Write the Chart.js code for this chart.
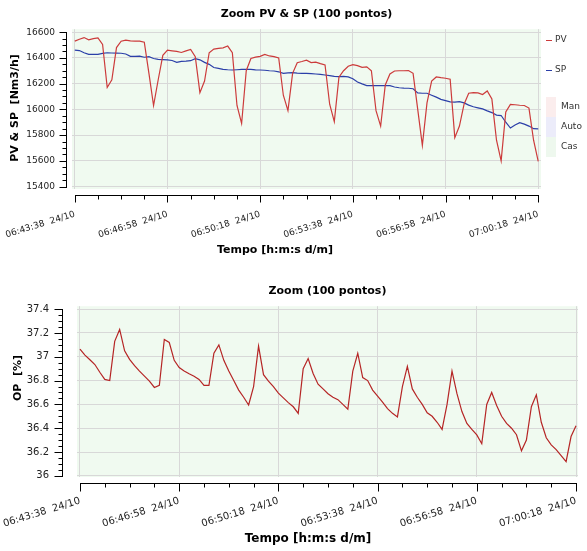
<!DOCTYPE html>
<html><head><meta charset="utf-8">
<script src="https://cdn.jsdelivr.net/npm/chart.js@4.4.0/dist/chart.umd.min.js"></script>
<style>
html,body{margin:0;padding:0;background:#fff;overflow:hidden;}
#w1{position:absolute;left:0;top:0;width:587px;height:265px;}
#w2{position:absolute;left:0;top:265px;width:587px;height:286px;}
</style></head><body>
<div id="w1"><canvas id="c1"></canvas></div>
<div id="w2"><canvas id="c2"></canvas></div>
<script>
// ---- data ----
const times = [
'06:43:38','06:43:48','06:43:58','06:44:08','06:44:18','06:44:28','06:44:38','06:44:48','06:44:58','06:45:08',
'06:45:18','06:45:28','06:45:38','06:45:48','06:45:58','06:46:08','06:46:18','06:46:28','06:46:38','06:46:48',
'06:46:58','06:47:08','06:47:18','06:47:28','06:47:38','06:47:48','06:47:58','06:48:08','06:48:18','06:48:28',
'06:48:38','06:48:48','06:48:58','06:49:08','06:49:18','06:49:28','06:49:38','06:49:48','06:49:58','06:50:08',
'06:50:18','06:50:28','06:50:38','06:50:48','06:50:58','06:51:08','06:51:18','06:51:28','06:51:38','06:51:48',
'06:51:58','06:52:08','06:52:18','06:52:28','06:52:38','06:52:48','06:52:58','06:53:08','06:53:18','06:53:28',
'06:53:38','06:53:48','06:53:58','06:54:08','06:54:18','06:54:28','06:54:38','06:54:48','06:54:58','06:55:08',
'06:55:18','06:55:28','06:55:38','06:55:48','06:55:58','06:56:08','06:56:18','06:56:28','06:56:38','06:56:48',
'06:56:58','06:57:08','06:57:18','06:57:28','06:57:38','06:57:48','06:57:58','06:58:08','06:58:18','06:58:28',
'06:58:38','06:58:48','06:58:58','06:59:08','06:59:18','06:59:28','06:59:38','06:59:48','06:59:58','07:00:08',
'07:00:18'];

const pv = [
16530,16545,16558,16540,16550,16555,16505,16170,16230,16480,
16530,16538,16532,16530,16530,16522,16280,16030,16230,16420,
16460,16455,16450,16442,16455,16465,16410,16130,16220,16440,
16468,16474,16478,16492,16440,16030,15890,16300,16395,16406,
16412,16427,16415,16410,16400,16110,15990,16280,16363,16372,
16382,16363,16367,16355,16345,16040,15905,16250,16300,16335,
16348,16340,16326,16330,16300,15990,15870,16190,16275,16298,
16300,16300,16302,16280,16000,15720,16050,16220,16252,16246,
16242,16234,15780,15870,16040,16125,16130,16128,16115,16143,
16080,15760,15600,15980,16038,16036,16032,16030,16010,15760,
15595];

const sp = [
16460,16457,16440,16427,16427,16427,16435,16440,16438,16437,
16436,16430,16412,16412,16414,16405,16410,16395,16388,16386,
16384,16380,16366,16373,16375,16378,16394,16385,16365,16350,
16325,16318,16311,16308,16306,16308,16310,16311,16310,16307,
16306,16304,16300,16298,16292,16280,16283,16285,16282,16280,
16279,16277,16275,16272,16267,16262,16256,16254,16256,16252,
16238,16213,16198,16185,16184,16184,16184,16184,16184,16174,
16168,16165,16164,16160,16128,16125,16125,16110,16095,16078,
16068,16058,16056,16060,16050,16033,16020,16012,16004,15988,
15975,15955,15952,15900,15855,15878,15897,15885,15870,15850,
15849];

const op = [
37.065,37.014,36.975,36.935,36.87,36.81,36.80,37.13,37.23,37.05,
36.978,36.925,36.88,36.837,36.795,36.742,36.76,37.145,37.12,36.97,
36.91,36.88,36.857,36.837,36.81,36.76,36.76,37.03,37.10,36.97,
36.88,36.80,36.72,36.66,36.595,36.75,37.09,36.85,36.795,36.749,
36.695,36.655,36.615,36.58,36.525,36.90,36.985,36.86,36.77,36.73,
36.69,36.66,36.64,36.60,36.56,36.88,37.03,36.825,36.80,36.72,
36.67,36.62,36.565,36.525,36.495,36.75,36.92,36.73,36.66,36.60,
36.53,36.50,36.45,36.39,36.60,36.88,36.69,36.54,36.44,36.39,
36.344,36.27,36.60,36.70,36.59,36.50,36.44,36.40,36.345,36.21,
36.30,36.58,36.68,36.45,36.32,36.26,36.22,36.17,36.12,36.33,
36.42];

const xTickLabels = ['06:43:38','06:46:58','06:50:18','06:53:38','06:56:58','07:00:18'];
const dateLabel = '24/10';
const yTicksTop = [15400,15600,15800,16000,16200,16400,16600];
const yTicksBottom = [36,36.2,36.4,36.6,36.8,37,37.2,37.4];
const yTickLabelsBottom = ['36','36.2','36.4','36.6','36.8','37','37.2','37.4'];
const legendLabels = ['PV','SP','Man','Auto','Cas'];
const titleTop = 'Zoom PV & SP (100 pontos)';
const titleBottom = 'Zoom (100 pontos)';
const xTitle = 'Tempo [h:m:s d/m]';
const yTitleTop = 'PV & SP  [Nm3/h]';
const yTitleBottom = 'OP  [%]';

// ---- helpers ----
const FONT = "'DejaVu Sans', Verdana, sans-serif";
Chart.defaults.font.family = FONT;
const toSec = s => { const p = s.split(':').map(Number); return p[0]*3600 + p[1]*60 + p[2]; };
const t0 = toSec(times[0]);
const xs = times.map(s => toSec(s) - t0);
const xTickVals = xTickLabels.map(s => toSec(s) - t0);
const pts = vals => vals.map((v, i) => ({x: xs[i], y: v}));
const xLabel = v => { const i = xTickVals.indexOf(v); return i < 0 ? '' : xTickLabels[i] + '  ' + dateLabel; };

const plotBg = {
  id: 'plotBg',
  beforeDraw(chart, args, o) {
    const {ctx, chartArea: a} = chart;
    ctx.save(); ctx.fillStyle = o.color;
    ctx.fillRect(a.left, a.top, a.right - a.left, a.bottom - a.top);
    ctx.restore();
  }
};

const axesDecor = {
  id: 'axesDecor',
  afterDraw(chart, args, o) {
    const {ctx, chartArea: a, scales: {x, y}} = chart;
    ctx.save();
    ctx.strokeStyle = '#000'; ctx.lineWidth = 1;
    const ax = Math.round(a.left - o.yGap) + 0.5;
    const ay = Math.round(a.bottom + o.xGap) + 0.5;
    const py = v => Math.round(y.getPixelForValue(v)) + 0.5;
    const px = v => Math.round(x.getPixelForValue(v)) + 0.5;
    const ym = o.yMajor, xm = o.xMajor;
    ctx.beginPath();
    ctx.moveTo(ax, py(ym[ym.length - 1]) - 0.5); ctx.lineTo(ax, py(ym[0]) + 0.5);
    for (let i = 0; i < ym.length; i++) {
      ctx.moveTo(ax - o.majorLen, py(ym[i])); ctx.lineTo(ax, py(ym[i]));
      if (i < ym.length - 1) for (let k = 1; k < 4; k++) {
        const v = ym[i] + (ym[i + 1] - ym[i]) * k / 4;
        ctx.moveTo(ax - o.minorLen, py(v)); ctx.lineTo(ax, py(v));
      }
    }
    ctx.moveTo(px(xm[0]) - 0.5, ay); ctx.lineTo(px(xm[xm.length - 1]) + 0.5, ay);
    for (let i = 0; i < xm.length; i++) {
      ctx.moveTo(px(xm[i]), ay); ctx.lineTo(px(xm[i]), ay + o.majorLen);
      if (i < xm.length - 1) for (let k = 1; k < 4; k++) {
        const v = xm[i] + (xm[i + 1] - xm[i]) * k / 4;
        ctx.moveTo(px(v), ay); ctx.lineTo(px(v), ay + o.minorLen);
      }
    }
    ctx.stroke();
    ctx.fillStyle = '#000'; ctx.textAlign = 'center'; ctx.textBaseline = 'middle';
    ctx.font = o.xTitle.font; ctx.fillText(o.xTitle.text, o.xTitle.x, o.xTitle.y);
    ctx.translate(o.yTitle.x, o.yTitle.y); ctx.rotate(-Math.PI / 2);
    ctx.font = o.yTitle.font; ctx.fillText(o.yTitle.text, 0, 0);
    ctx.restore();
  }
};

const sideLegend = {
  id: 'sideLegend',
  afterDraw(chart, args, o) {
    if (!o.items) return;
    const {ctx, chartArea: a} = chart;
    ctx.save();
    ctx.font = '9px ' + FONT; ctx.textBaseline = 'middle'; ctx.textAlign = 'left';
    const x0 = a.right + 5;
    o.items.forEach(it => {
      if (it.type === 'line') {
        ctx.strokeStyle = it.color; ctx.lineWidth = 1;
        ctx.beginPath(); ctx.moveTo(x0, it.y + 0.5); ctx.lineTo(x0 + 6, it.y + 0.5); ctx.stroke();
        ctx.fillStyle = '#333'; ctx.fillText(it.text, x0 + 9, it.y);
      } else {
        ctx.fillStyle = it.color; ctx.fillRect(x0, it.y - 10, 10, 20);
        ctx.fillStyle = '#333'; ctx.fillText(it.text, x0 + 15, it.y);
      }
    });
    ctx.restore();
  }
};

function makeChart(id, cfg) {
  return new Chart(document.getElementById(id), {
    type: 'line',
    data: {datasets: cfg.datasets},
    plugins: [plotBg, axesDecor, sideLegend],
    options: {
      responsive: true, maintainAspectRatio: false, animation: false,
      layout: {padding: {left: 0, right: cfg.padRight, top: 0, bottom: 0}},
      elements: {point: {radius: 0}, line: {tension: 0}},
      plugins: {
        legend: {display: false}, tooltip: {enabled: false},
        title: {display: true, text: cfg.title, color: '#000', fullSize: false,
                font: {size: 11, weight: 'bold'}, padding: cfg.titlePad},
        plotBg: {color: '#F0FAF0'},
        axesDecor: cfg.decor,
        sideLegend: {items: cfg.legend}
      },
      scales: {
        x: {
          type: 'linear', min: cfg.xMin, max: cfg.xMax,
          afterFit: s => { s.height = cfg.xH; s.paddingLeft = 0; s.paddingRight = 0; },
          afterBuildTicks: s => { s.ticks = xTickVals.map(v => ({value: v})); },
          grid: {color: '#D8D8D8', drawTicks: false},
          border: {display: false},
          ticks: {autoSkip: false, minRotation: 17, maxRotation: 17, padding: cfg.xPad,
                  color: '#222', font: {size: cfg.tickSize}, callback: v => xLabel(v)}
        },
        y: {
          type: 'linear', min: cfg.yMin, max: cfg.yMax,
          afterFit: s => { s.width = cfg.yW; s.paddingTop = 0; s.paddingBottom = 0; },
          afterBuildTicks: s => { s.ticks = cfg.yTicks.map(v => ({value: v})); },
          grid: {color: '#D8D8D8', drawTicks: false},
          border: {display: false},
          ticks: {padding: cfg.yPad, color: '#222', font: {size: cfg.tickSize},
                  callback: cfg.yLabel}
        }
      }
    }
  });
}

makeChart('c1', {
  datasets: [
    {label: 'PV', data: pts(pv), borderColor: '#CC3B3B', borderWidth: 1.2},
    {label: 'SP', data: pts(sp), borderColor: '#2B3FA8', borderWidth: 1.2}
  ],
  title: titleTop, titlePad: {top: 8, bottom: 8}, padRight: 46,
  xMin: -6, xMax: 1006, yMin: 15381, yMax: 16623, xH: 76, yW: 72,
  xPad: 20, yPad: 17, tickSize: 9, yTicks: yTicksTop, yLabel: v => String(v),
  decor: {yGap: 6, xGap: 6, majorLen: 7, minorLen: 4, yMajor: yTicksTop, xMajor: xTickVals,
          xTitle: {text: xTitle, x: 275, y: 250, font: 'bold 11px ' + FONT},
          yTitle: {text: yTitleTop, x: 15, y: 108, font: 'bold 11px ' + FONT}},
  legend: [
    {type: 'line', text: legendLabels[0], color: '#CC3B3B', y: 40},
    {type: 'line', text: legendLabels[1], color: '#2B3FA8', y: 70},
    {type: 'box', text: legendLabels[2], color: '#FBEDED', y: 107},
    {type: 'box', text: legendLabels[3], color: '#ECECFA', y: 127},
    {type: 'box', text: legendLabels[4], color: '#EEF8EE', y: 147}
  ]
});

makeChart('c2', {
  datasets: [
    {label: 'OP', data: pts(op), borderColor: '#B52525', borderWidth: 1.2}
  ],
  title: titleBottom, titlePad: {top: 20, bottom: 8}, padRight: 9,
  xMin: -6, xMax: 1004, yMin: 35.99, yMax: 37.425, xH: 74, yW: 77,
  xPad: 18, yPad: 28, tickSize: 10, yTicks: yTicksBottom,
  yLabel: v => { const i = yTicksBottom.indexOf(v); return i < 0 ? '' : yTickLabelsBottom[i]; },
  decor: {yGap: 15, xGap: 6, majorLen: 8, minorLen: 4, yMajor: yTicksBottom, xMajor: xTickVals,
          xTitle: {text: xTitle, x: 308, y: 274, font: 'bold 12px ' + FONT},
          yTitle: {text: yTitleBottom, x: 18, y: 113, font: 'bold 11px ' + FONT}},
  legend: null
});
</script>
</body></html>
